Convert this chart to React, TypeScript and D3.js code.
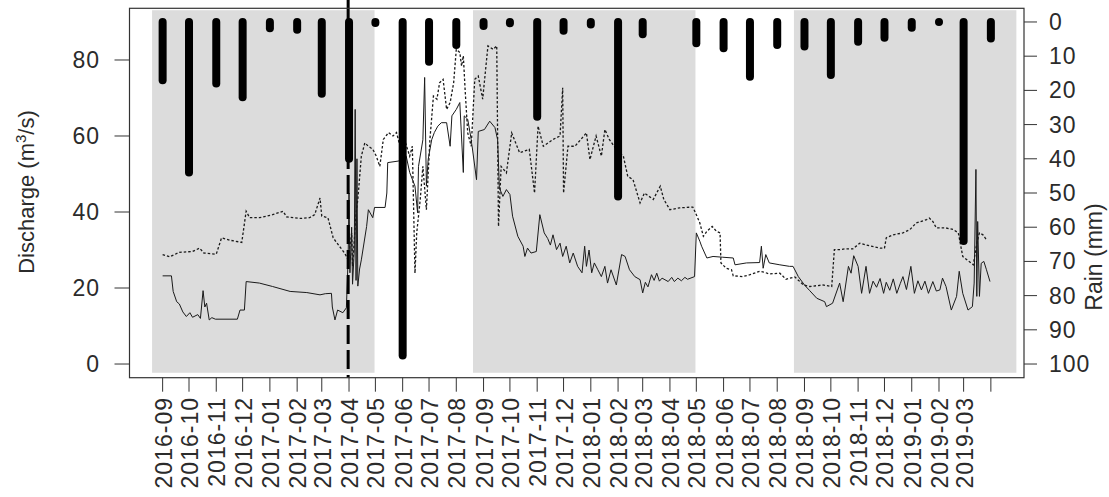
import React from 'react';
import * as d3 from 'd3';

// monthly tick positions (the last one carries no label)
const months = [
  '2016-09', '2016-10', '2016-11', '2016-12',
  '2017-01', '2017-02', '2017-03', '2017-04', '2017-05', '2017-06',
  '2017-07', '2017-08', '2017-09', '2017-10', '2017-11', '2017-12',
  '2018-01', '2018-02', '2018-03', '2018-04', '2018-05', '2018-06',
  '2018-07', '2018-08', '2018-09', '2018-10', '2018-11', '2018-12',
  '2019-01', '2019-02', '2019-03', '2019-04',
];
const tickLabels = months.slice(0, 31);

// monthly rain (mm), null = no record
const rainMm: (number | null)[] = [
  17, 44, 18, 22,
  1.8, 2.3, 21, 40, 0.3, 97.5, 11.6, 6.7, 1.2, 0.4, 27.7, 2.6,
  0.7, 51, 3.6, null, 6.2, 7.7, 16, 6.7, 7.2, 15.5, 5.8, 4.6,
  1.7, 0, 64, 4.8,
];

// shaded seasons
const seasonStart = ['2016-08-20', '2017-08-20', '2018-08-20'];
const seasonEnd = ['2017-04-30', '2018-04-30', '2019-04-30'];

const markerDate = '2017-03-31';

// observed discharge (m3/s), solid line
const observed: [string, number][] = [
  ['2016-09-01', 23.2], ['2016-09-11', 23.2], ['2016-09-13', 19.1], ['2016-09-17', 16.4],
  ['2016-09-20', 15.8], ['2016-09-24', 13.7], ['2016-09-28', 12.5], ['2016-10-02', 13.5],
  ['2016-10-05', 12.3], ['2016-10-11', 13.0], ['2016-10-14', 12.0], ['2016-10-17', 19.3],
  ['2016-10-19', 15.0], ['2016-10-21', 16.0], ['2016-10-24', 11.6], ['2016-10-27', 12.2],
  ['2016-10-31', 11.8], ['2016-11-25', 11.8], ['2016-11-28', 14.2], ['2016-12-03', 14.2],
  ['2016-12-05', 21.7], ['2016-12-20', 21.3], ['2017-01-04', 20.4], ['2017-01-24', 19.1],
  ['2017-02-12', 18.8], ['2017-02-27', 18.2], ['2017-03-05', 18.5], ['2017-03-12', 18.6],
  ['2017-03-13', 15.0], ['2017-03-16', 11.6], ['2017-03-19', 14.2], ['2017-03-25', 13.5],
  ['2017-03-29', 14.8], ['2017-03-31', 28], ['2017-04-01', 45], ['2017-04-02', 24],
  ['2017-04-04', 36], ['2017-04-05', 21], ['2017-04-07', 30], ['2017-04-08', 67],
  ['2017-04-09', 22], ['2017-04-10', 54], ['2017-04-11', 20.5], ['2017-04-13', 25],
  ['2017-04-15', 27.4], ['2017-04-21', 36.2], ['2017-04-23', 40.6], ['2017-04-28', 38.5],
  ['2017-04-30', 41.2], ['2017-05-12', 41.2], ['2017-05-14', 45], ['2017-05-15', 53],
  ['2017-05-27', 53.4], ['2017-05-31', 53.8], ['2017-06-05', 54.7], ['2017-06-09', 50.4],
  ['2017-06-15', 46.8], ['2017-06-18', 39.8], ['2017-06-19', 52], ['2017-06-24', 59],
  ['2017-06-26', 75.4], ['2017-06-28', 46.8], ['2017-06-30', 53.8], ['2017-07-04', 59],
  ['2017-07-07', 60.9], ['2017-07-11', 62.6], ['2017-07-15', 63.5], ['2017-07-21', 63.5],
  ['2017-07-25', 57.3], ['2017-07-27', 65.3], ['2017-08-01', 67], ['2017-08-05', 68.8],
  ['2017-08-09', 50.4], ['2017-08-10', 65.3], ['2017-08-14', 64.4], ['2017-08-18', 59],
  ['2017-08-24', 48.5], ['2017-08-26', 61.2], ['2017-09-02', 61.7], ['2017-09-08', 63.9],
  ['2017-09-14', 62.2], ['2017-09-17', 59], ['2017-09-19', 46.3], ['2017-09-23', 44.1],
  ['2017-09-27', 45.9], ['2017-10-01', 44.6], ['2017-10-04', 38.9], ['2017-10-10', 33.6],
  ['2017-10-16', 31], ['2017-10-18', 28.3], ['2017-10-21', 30.5], ['2017-10-25', 29.2],
  ['2017-10-31', 29.6], ['2017-11-04', 39.3], ['2017-11-09', 34.5], ['2017-11-13', 33.0],
  ['2017-11-16', 31.3], ['2017-11-19', 34.0], ['2017-11-23', 30.1], ['2017-11-27', 31.8],
  ['2017-11-30', 28.3], ['2017-12-04', 31], ['2017-12-08', 26.6], ['2017-12-12', 29.2],
  ['2017-12-17', 25.7], ['2017-12-22', 24], ['2017-12-25', 31], ['2017-12-27', 25.7],
  ['2017-12-30', 30], ['2018-01-02', 24], ['2018-01-05', 26.6], ['2018-01-09', 24.8],
  ['2018-01-13', 23], ['2018-01-17', 25.7], ['2018-01-20', 21.3], ['2018-01-24', 24.8],
  ['2018-01-30', 20.8], ['2018-02-05', 28.8], ['2018-02-09', 28.3], ['2018-02-14', 24.8],
  ['2018-02-20', 23], ['2018-02-26', 22.2], ['2018-03-01', 18.7], ['2018-03-04', 21.5],
  ['2018-03-07', 20.3], ['2018-03-11', 23.5], ['2018-03-14', 22.0], ['2018-03-17', 23.9],
  ['2018-03-20', 21.8], ['2018-03-23', 22.6], ['2018-03-30', 21.7], ['2018-04-03', 22.8],
  ['2018-04-06', 21.7], ['2018-04-10', 22.6], ['2018-04-14', 21.9], ['2018-04-18', 22.8],
  ['2018-04-21', 22.3], ['2018-04-29', 23], ['2018-05-01', 34.5], ['2018-05-05', 32.3],
  ['2018-05-07', 31], ['2018-05-13', 27.9], ['2018-05-20', 28.3], ['2018-05-31', 28.1],
  ['2018-06-12', 27.9], ['2018-06-14', 26.1], ['2018-06-27', 26.6], ['2018-07-12', 26.7],
  ['2018-07-14', 31], ['2018-07-16', 25.2], ['2018-07-19', 28.8], ['2018-07-23', 26.6],
  ['2018-08-04', 26.1], ['2018-08-15', 25.7], ['2018-08-19', 25.7], ['2018-08-25', 23],
  ['2018-09-01', 20.8], ['2018-09-07', 19.3], ['2018-09-15', 17.3], ['2018-09-24', 16.4],
  ['2018-09-26', 15.1], ['2018-10-03', 16], ['2018-10-11', 21.3], ['2018-10-15', 16.4],
  ['2018-10-21', 25.7], ['2018-10-24', 23.9], ['2018-10-27', 28.5], ['2018-11-01', 25.7],
  ['2018-11-05', 18.6], ['2018-11-10', 25.7], ['2018-11-14', 18.6], ['2018-11-18', 21.8],
  ['2018-11-22', 20.2], ['2018-11-26', 22.5], ['2018-11-30', 18.6], ['2018-12-03', 21.5],
  ['2018-12-07', 19.4], ['2018-12-11', 22.4], ['2018-12-15', 18.6], ['2018-12-19', 21.2],
  ['2018-12-22', 23], ['2018-12-26', 19.6], ['2018-12-31', 25.7], ['2019-01-04', 18.6],
  ['2019-01-08', 21.9], ['2019-01-12', 19.5], ['2019-01-16', 21.8], ['2019-01-20', 18.6],
  ['2019-01-25', 21.7], ['2019-01-29', 19.2], ['2019-02-02', 19.5], ['2019-02-05', 22.6],
  ['2019-02-09', 20.4], ['2019-02-15', 14.2], ['2019-02-21', 17.8], ['2019-02-24', 24.4],
  ['2019-02-28', 18.6], ['2019-03-06', 14.2], ['2019-03-11', 15.1], ['2019-03-13', 21.3],
  ['2019-03-15', 51.2], ['2019-03-16', 17.8], ['2019-03-17', 37.5], ['2019-03-19', 17.8],
  ['2019-03-21', 26.5], ['2019-03-24', 27], ['2019-03-27', 24.8], ['2019-03-31', 21.7],
];

// simulated discharge (m3/s), dotted line
const simulated: [string, number][] = [
  ['2016-09-01', 28.8], ['2016-09-09', 28.2], ['2016-09-20', 29.4], ['2016-10-05', 29.6],
  ['2016-10-13', 30.5], ['2016-10-18', 29.2], ['2016-11-01', 28.9], ['2016-11-07', 33.2],
  ['2016-11-16', 32.6], ['2016-11-30', 32.0], ['2016-12-05', 40.2], ['2016-12-09', 38.5],
  ['2016-12-20', 38.5], ['2016-12-28', 38.9], ['2017-01-04', 39.3], ['2017-01-16', 40.2],
  ['2017-01-20', 38.7], ['2017-02-04', 38.3], ['2017-02-15', 38.5], ['2017-02-21', 39.3],
  ['2017-02-27', 43.7], ['2017-03-01', 38.9], ['2017-03-08', 38.5], ['2017-03-14', 33.2],
  ['2017-03-21', 31.0], ['2017-03-27', 29.2], ['2017-03-31', 27.4], ['2017-04-04', 34.5],
  ['2017-04-05', 25.7], ['2017-04-09', 39.7], ['2017-04-11', 43.3], ['2017-04-15', 54.7],
  ['2017-04-19', 58.2], ['2017-04-23', 57.3], ['2017-04-28', 56.5], ['2017-05-02', 54.7],
  ['2017-05-06', 52], ['2017-05-10', 59.1], ['2017-05-16', 60.9], ['2017-05-21', 60],
  ['2017-05-25', 60.9], ['2017-05-29', 57.3], ['2017-06-03', 59.1], ['2017-06-09', 54.7],
  ['2017-06-12', 57.3], ['2017-06-15', 23.9], ['2017-06-17', 34.5], ['2017-06-21', 43.3],
  ['2017-06-24', 52], ['2017-06-28', 40.6], ['2017-07-02', 59.1], ['2017-07-06', 70.5],
  ['2017-07-10', 69.7], ['2017-07-13', 74], ['2017-07-17', 74.9], ['2017-07-21', 67],
  ['2017-07-25', 68.8], ['2017-07-29', 74], ['2017-08-01', 82.8], ['2017-08-05', 82],
  ['2017-08-07', 78.4], ['2017-08-09', 81.1], ['2017-08-11', 72.3], ['2017-08-14', 60.8],
  ['2017-08-18', 57.3], ['2017-08-22', 74.9], ['2017-08-26', 75.8], ['2017-08-31', 69.7],
  ['2017-09-06', 83.7], ['2017-09-12', 82.8], ['2017-09-16', 83.7], ['2017-09-18', 36.2],
  ['2017-09-21', 52], ['2017-09-27', 50.3], ['2017-10-03', 60.8], ['2017-10-12', 55.6],
  ['2017-10-23', 56.5], ['2017-10-29', 45], ['2017-11-02', 62.6], ['2017-11-08', 57.3],
  ['2017-11-19', 59.1], ['2017-11-27', 60], ['2017-11-30', 72.7], ['2017-12-01', 45],
  ['2017-12-06', 57.3], ['2017-12-14', 57.3], ['2017-12-27', 60.8], ['2017-12-31', 53.8],
  ['2018-01-07', 60], ['2018-01-13', 54.7], ['2018-01-17', 61.7], ['2018-01-22', 59.1],
  ['2018-01-30', 56.5], ['2018-02-07', 54.7], ['2018-02-12', 49.4], ['2018-02-18', 48.5],
  ['2018-02-26', 42.4], ['2018-03-03', 45], ['2018-03-13', 43.3], ['2018-03-21', 46.8],
  ['2018-03-25', 43.3], ['2018-04-01', 40.6], ['2018-04-12', 41.1], ['2018-04-27', 41.3],
  ['2018-05-01', 39.3], ['2018-05-05', 37.1], ['2018-05-09', 33.6], ['2018-05-13', 34.9],
  ['2018-05-19', 36.2], ['2018-05-24', 34.9], ['2018-05-28', 34.5], ['2018-05-29', 26.6],
  ['2018-06-04', 25.2], ['2018-06-10', 24.8], ['2018-06-12', 23.2], ['2018-06-23', 23],
  ['2018-07-01', 23.5], ['2018-07-12', 24.4], ['2018-07-18', 24.1], ['2018-07-23', 23.7],
  ['2018-08-04', 23.9], ['2018-08-11', 22.3], ['2018-08-21', 22.9], ['2018-08-31', 20.8],
  ['2018-09-07', 20.4], ['2018-09-22', 20.8], ['2018-10-02', 20.4], ['2018-10-05', 30.1],
  ['2018-10-11', 30.1], ['2018-10-17', 30.3], ['2018-10-26', 30.3], ['2018-11-03', 31.8],
  ['2018-11-14', 31.1], ['2018-11-26', 30.5], ['2018-12-01', 30.5], ['2018-12-03', 33.2],
  ['2018-12-11', 34], ['2018-12-22', 34.5], ['2018-12-30', 35.4], ['2019-01-06', 37.1],
  ['2019-01-18', 38], ['2019-01-21', 38.4], ['2019-01-25', 37.5], ['2019-01-29', 35.8],
  ['2019-02-09', 35.8], ['2019-02-17', 35.4], ['2019-02-23', 34.5], ['2019-02-28', 28.3],
  ['2019-03-10', 26.5], ['2019-03-12', 26.1], ['2019-03-16', 31.8], ['2019-03-19', 34.5],
  ['2019-03-23', 34], ['2019-03-27', 32.7],
];

const flowTicks = [0, 20, 40, 60, 80];
const rainTicks = [0, 10, 20, 30, 40, 50, 60, 70, 80, 90, 100];

const parseDay = d3.timeParse('%Y-%m-%d');
const parseMonth = d3.timeParse('%Y-%m');

const App = () => {
  const width = 1109;
  const height = 497;
  const left = 129.5;
  const right = 1024;
  const top = 8.3;
  const bottom = 377.7;
  const font = '"Liberation Sans", Arial, sans-serif';
  const ink = '#2b2b2b';

  // R-style 4% padding on every axis
  const t0 = parseMonth(months[0])!;
  const t1 = parseMonth(months[months.length - 1])!;
  const pad = (t1.getTime() - t0.getTime()) * 0.04;
  const x = d3.scaleTime()
    .domain([new Date(t0.getTime() - pad), new Date(t1.getTime() + pad)])
    .range([left, right]);
  const y = d3.scaleLinear().domain([-3.6, 93.6]).range([bottom, top]);
  const yRain = d3.scaleLinear().domain([-4, 104]).range([top, bottom]);

  const line = d3.line<[string, number]>()
    .x(d => x(parseDay(d[0])!))
    .y(d => y(d[1]));

  const markerX = x(parseDay(markerDate)!);

  return (
    <svg width={width} height={height} style={{ position: 'absolute', left: 0, top: 0, background: '#fff' }}
      fontFamily={font}>
      {seasonStart.map((s, i) => (
        <rect key={s} x={x(parseDay(s)!)} y={y(93.1)}
          width={x(parseDay(seasonEnd[i])!) - x(parseDay(s)!)} height={y(-2.3) - y(93.1)}
          fill="#dcdcdc" />
      ))}

      <path d={line(simulated) ?? ''} fill="none" stroke="#1a1a1a" strokeWidth={1.3} strokeDasharray="2.5,2" />
      <path d={line(observed) ?? ''} fill="none" stroke="#1a1a1a" strokeWidth={1} />

      {months.map((m, i) => rainMm[i] == null ? null : (
        <line key={'r' + m} x1={x(parseMonth(m)!)} x2={x(parseMonth(m)!)}
          y1={yRain(0)} y2={yRain(rainMm[i] as number)}
          stroke="#000" strokeWidth={8} strokeLinecap="round" />
      ))}

      <line x1={markerX} x2={markerX} y1={0} y2={bottom} stroke="#000" strokeWidth={3} strokeDasharray="19,6" />

      <rect x={left} y={top} width={right - left} height={bottom - top} fill="none" stroke="#333" strokeWidth={1.2} />

      {/* left axis */}
      {flowTicks.map(t => (
        <g key={'f' + t}>
          <line x1={left - 15} x2={left} y1={y(t)} y2={y(t)} stroke="#333" />
          <text x={100} y={y(t) + 8} textAnchor="end" fontSize={23} letterSpacing={1} fill={ink}>{t}</text>
        </g>
      ))}
      <text transform={`translate(33.5,192) rotate(-90)`} textAnchor="middle" fontSize={22} fill={ink}>
        Discharge (m<tspan dy={-8} fontSize={15}>3</tspan><tspan dy={8}>/s)</tspan>
      </text>

      {/* right axis */}
      {rainTicks.map(t => (
        <g key={'p' + t}>
          <line x1={right} x2={right + 13} y1={yRain(t)} y2={yRain(t)} stroke="#333" />
          <text x={1049} y={yRain(t) + 8} textAnchor="start" fontSize={23} letterSpacing={1} fill={ink}>{t}</text>
        </g>
      ))}
      <text transform={`translate(1102,257) rotate(-90)`} textAnchor="middle" fontSize={23} fill={ink}>Rain (mm)</text>

      {/* bottom axis */}
      {months.map(m => (
        <line key={'t' + m} x1={x(parseMonth(m)!)} x2={x(parseMonth(m)!)} y1={bottom} y2={bottom + 14} stroke="#333" />
      ))}
      {tickLabels.map(m => (
        <text key={'l' + m} transform={`translate(${x(parseMonth(m)!) + 9},397) rotate(-90)`}
          textAnchor="end" fontSize={23} letterSpacing={1} fill={ink}>{m}</text>
      ))}
    </svg>
  );
};

export default App;
